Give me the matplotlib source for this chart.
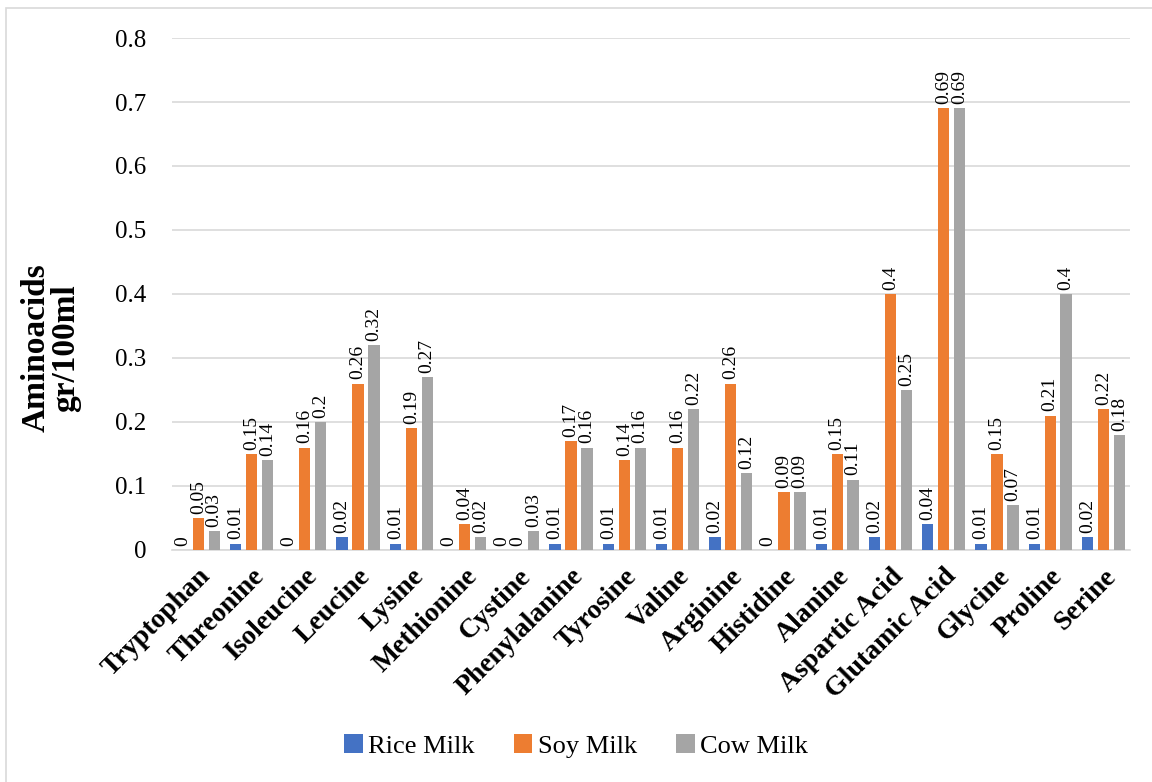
import numpy as np
import matplotlib.pyplot as plt
from matplotlib.patches import Rectangle

plt.rcParams['font.family'] = ['Liberation Serif', 'DejaVu Serif']

# Aminoacidos por tipo de leche (gr/100ml)
aminoacidos = ["Tryptophan", "Threonine", "Isoleucine", "Leucine", "Lysine",
               "Methionine", "Cystine", "Phenylalanine", "Tyrosine", "Valine",
               "Arginine", "Histidine", "Alanine", "Aspartic Acid",
               "Glutamic Acid", "Glycine", "Proline", "Serine"]
rice_milk = [0, 0.01, 0, 0.02, 0.01, 0, 0, 0.01, 0.01, 0.01,
             0.02, 0, 0.01, 0.02, 0.04, 0.01, 0.01, 0.02]
soy_milk = [0.05, 0.15, 0.16, 0.26, 0.19, 0.04, 0, 0.17, 0.14, 0.16,
            0.26, 0.09, 0.15, 0.4, 0.69, 0.15, 0.21, 0.22]
cow_milk = [0.03, 0.14, 0.2, 0.32, 0.27, 0.02, 0.03, 0.16, 0.16, 0.22,
            0.12, 0.09, 0.11, 0.25, 0.69, 0.07, 0.4, 0.18]

series = [("Rice Milk", rice_milk, "#4472C4"),
          ("Soy Milk", soy_milk, "#ED7D31"),
          ("Cow Milk", cow_milk, "#A5A5A5")]

fig = plt.figure(figsize=(11.52, 7.82), dpi=100)
ax = fig.add_axes([0.149, 0.2967, 0.832, 0.6547])

x = np.arange(len(aminoacidos))
ancho = 0.215
paso = 0.30
for i, (nombre, valores, color) in enumerate(series):
    pos = x + (i - 1) * paso
    ax.bar(pos, valores, ancho, color=color, label=nombre, zorder=3)
    for px, v in zip(pos, valores):
        ax.annotate(f"{v:g}", (px, v), xytext=(0, 3), textcoords="offset points",
                    rotation=90, ha="center", va="bottom", fontsize=14)

ax.set_xlim(-0.5, len(aminoacidos) - 0.5)
ax.set_ylim(0, 0.8)
ticks = np.arange(0, 0.81, 0.1).round(1)
ax.set_yticks(ticks)
ax.set_yticklabels([f"{t:g}" for t in ticks], fontsize=18)
ax.set_xticks(x)
ax.set_xticklabels(aminoacidos, rotation=45, ha="right", rotation_mode="anchor",
                   fontsize=20, fontweight="bold")
ax.tick_params(length=0)
ax.tick_params(axis="y", pad=18)
ax.tick_params(axis="x", pad=10)
ax.grid(axis="y", color="#D9D9D9", linewidth=1.2, zorder=0)
for s in ["top", "right", "left"]:
    ax.spines[s].set_visible(False)
ax.spines["bottom"].set_color("#D9D9D9")
ax.spines["bottom"].set_linewidth(1.2)

fig.text(0.044, 0.555, "Aminoacids\ngr/100ml", rotation=90, ha="center", va="center",
         fontsize=24, fontweight="bold", linespacing=0.95)

fig.legend(loc="center", bbox_to_anchor=(0.5, 0.046), ncol=3, frameon=False,
           fontsize=19, handlelength=0.7, handleheight=0.7, handletextpad=0.2,
           columnspacing=1.5)

# marco exterior (solo se ven arriba e izquierda)
fig.patches.append(Rectangle((6 / 1152, -0.05), 1.1, 1 - 8 / 782 + 0.05,
                             transform=fig.transFigure, fill=False,
                             edgecolor="#D9D9D9", linewidth=1.2))

fig.savefig("out.png", dpi=100)
